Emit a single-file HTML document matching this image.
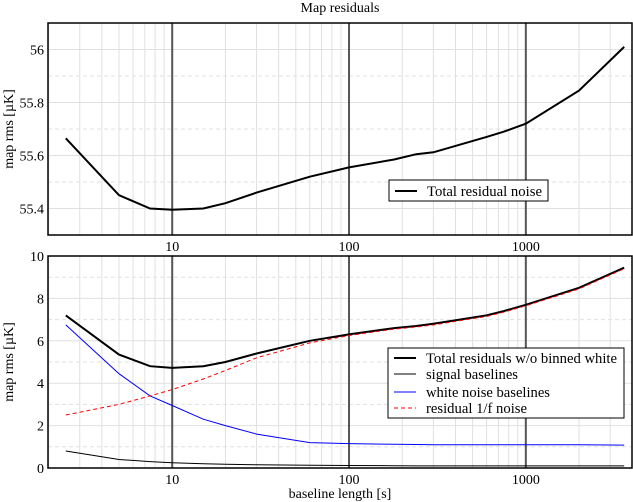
<!DOCTYPE html>
<html><head><meta charset="utf-8"><style>
body{margin:0;background:#fff}
svg{display:block;font-family:"Liberation Serif",serif}
</style></head><body>
<svg id="c" width="633" height="502" xmlns="http://www.w3.org/2000/svg"></svg>
<script>
const xs = [2.5,5,7.5,10,15,20,30,60,100,180,240,300,600,750,1000,2000,3600];
const topTotal = [55.665,55.45,55.40,55.395,55.40,55.42,55.46,55.52,55.555,55.585,55.605,55.612,55.67,55.69,55.72,55.845,56.01];
const botTotal = [7.2,5.35,4.8,4.72,4.8,5.0,5.4,6.0,6.3,6.6,6.7,6.8,7.2,7.4,7.7,8.5,9.45];
const signalBase = [0.8,0.4,0.3,0.25,0.2,0.18,0.15,0.13,0.12,0.11,0.1,0.1,0.1,0.1,0.1,0.1,0.1];
const whiteBase = [6.75,4.45,3.4,2.95,2.3,2.0,1.6,1.2,1.15,1.12,1.11,1.1,1.1,1.1,1.1,1.1,1.08];
const oneOverF = [2.5,3.0,3.4,3.7,4.2,4.6,5.2,5.9,6.25,6.55,6.65,6.75,7.15,7.35,7.65,8.45,9.4];
const xTickLabels = [10,100,1000];
const topYTicks = [55.4,55.6,55.8,56];
const botYTicks = [0,2,4,6,8,10];

const svg=document.getElementById('c');
const NS='http://www.w3.org/2000/svg';
function el(tag,attrs,parent){const e=document.createElementNS(NS,tag);for(const k in attrs)e.setAttribute(k,attrs[k]);(parent||svg).appendChild(e);return e;}
const L=48,R=632;
const lx0=Math.log10(10)-124/176.5, lx1=3+106/176.5;
function X(v){return L+(Math.log10(v)-lx0)/(lx1-lx0)*(R-L);}

function panel(name,T,B,ymin,ymax,yticks,ystep){
  const Y=v=>B-(v-ymin)/(ymax-ymin)*(B-T);
  const g=el('g',{});
  
  
  for(let d=1;d<=1000;d*=10){for(let m=2;m<=9;m++){const v=d*m;const x=X(v);if(x>L&&x<R){el('line',{x1:x,x2:x,y1:T,y2:B,stroke:'#e0e0e0','stroke-width':1},g);}}}
  for(let v=ymin;v<=ymax+1e-9;v+=ystep){const y=Y(v);const major=yticks.some(t=>Math.abs(t-v)<1e-6);
    el('line',{x1:L,x2:R,y1:y,y2:y,stroke:'#e0e0e0','stroke-width':1,'stroke-dasharray':major?'':'4,3'},g);}
  xTickLabels.forEach(v=>{const x=X(v);el('line',{x1:x,x2:x,y1:T,y2:B,stroke:'#555','stroke-width':2},g);
    const t=el('text',{x:x,y:B+16,'text-anchor':'middle','font-size':14},g);t.textContent=v;
    });
  yticks.forEach(v=>{const y=Y(v);const t=el('text',{x:L-4,y:y+5,'text-anchor':'end','font-size':14},g);t.textContent=v;
    });
  el('rect',{x:L,y:T,width:R-L,height:B-T,fill:'none',stroke:'#000','stroke-width':1.5},g);
  return {g,Y};
}
function series(p,vals,color,w,dash,name){
  const d=vals.map((v,i)=>(i?'L':'M')+X(xs[i]).toFixed(1)+','+p.Y(v).toFixed(1)).join('');
  const e=el('path',{d:d,fill:'none',stroke:color,'stroke-width':w,'stroke-dasharray':dash||''},p.g);
  
  
}
const t=el('text',{x:340,y:12,'text-anchor':'middle','font-size':14});t.textContent='Map residuals';


const p1=panel('top',23,235,55.3,56.1,topYTicks,0.1);
series(p1,topTotal,'#000',2,'','total-residual-noise-line');
const p2=panel('bottom',256,468,0,10,botYTicks,1);
series(p2,signalBase,'#000',1,'','signal-baselines-line');
series(p2,whiteBase,'#0000ff',1,'','white-noise-baselines-line');
series(p2,botTotal,'#000',2,'','total-residuals-line');
series(p2,oneOverF,'#ff0000',1,'4,3','residual-1f-noise-line');

function ylab(x,y,s){const e=el('text',{x:x,y:y,'text-anchor':'middle','font-size':14,transform:`rotate(-90 ${x} ${y})`});e.textContent=s;
 }
ylab(13,129,'map rms [\u00b5K]');ylab(13,362,'map rms [\u00b5K]');
const xl=el('text',{x:340,y:498,'text-anchor':'middle','font-size':14});xl.textContent='baseline length [s]';


function legend(x,y,w,h,items,name){
  const g=el('g',{});
  
  
  el('rect',{x:x,y:y,width:w,height:h,fill:'#fff',stroke:'#000','stroke-width':1},g);
  items.forEach(it=>{const yy=y+it[4];
    el('line',{x1:x+6,x2:x+28,y1:yy,y2:yy,stroke:it[1],'stroke-width':it[2],'stroke-dasharray':it[3]||''},g);
    const tx=el('text',{x:x+38,y:yy+5,'font-size':15,textLength:it[5],lengthAdjust:'spacingAndGlyphs'},g);tx.textContent=it[0];
    });
}
legend(389,180,159,21,[['Total residual noise','#000',2,'',11,115]],'top-legend');
legend(388,348,236,70,[['Total residuals w/o binned white','#000',2,'',10,191],['signal baselines','#000',1,'',26,92],['white noise baselines','#00f',1,'',44,124],['residual 1/f noise','#f00',1,'4,3',60,101]],'bottom-legend');
</script>
</body></html>
